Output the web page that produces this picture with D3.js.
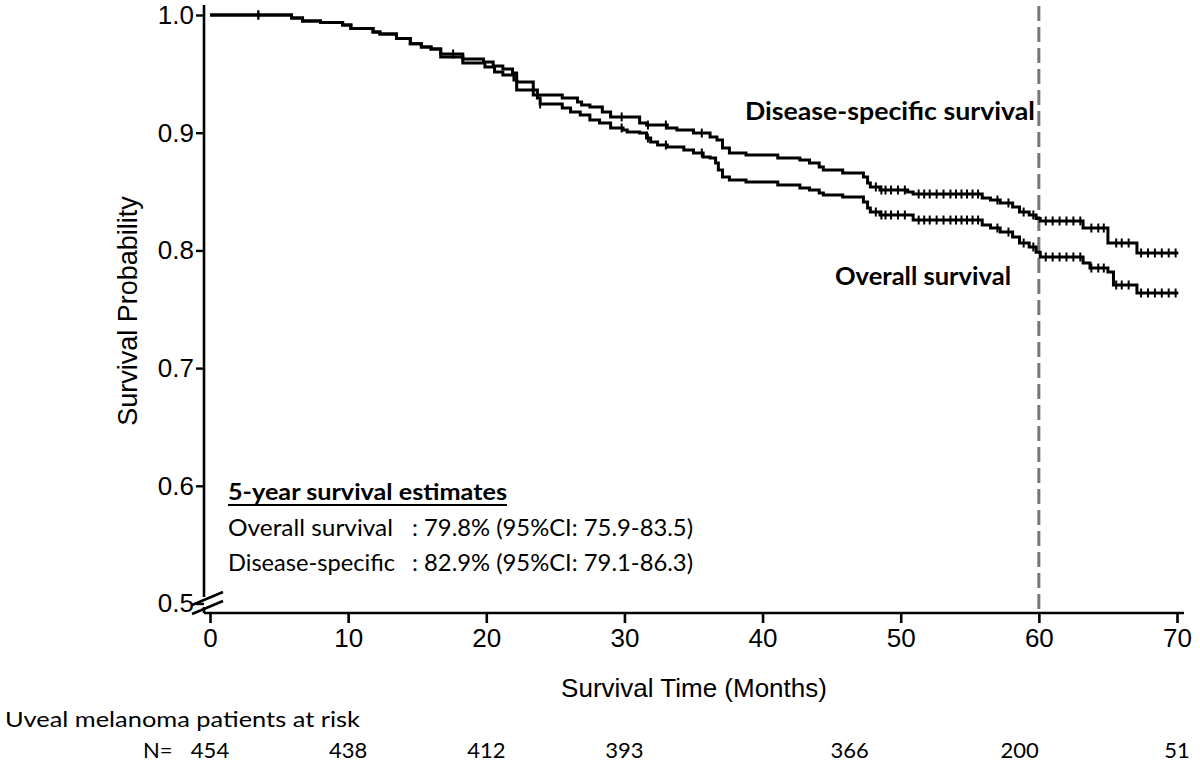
<!DOCTYPE html>
<html><head><meta charset="utf-8">
<script src="https://cdn.jsdelivr.net/npm/d3@7"></script>
<style>
html,body{margin:0;padding:0;background:#fff;}
svg{display:block;}
</style></head>
<body>
<svg id="c" width="1200" height="762"></svg>
<script>
// ---- data ----
const xTicks = [0,10,20,30,40,50,60,70];
const yTicks = [0.5,0.6,0.7,0.8,0.9,1.0];
const atRisk = [454,438,412,393,366,200,51];
const atRiskTimes = [0,10,20,30,46.3,58.6,70];

const dssTime = [0,5.9,6.7,8.0,9.6,10.2,11.8,12.3,13.5,14.5,15.3,16.0,16.7,18.3,19.8,20.5,21.2,21.9,22.2,23.4,25.5,26.6,26.9,27.5,28.4,29.0,31.1,31.6,33.1,33.8,35.0,36.2,36.7,37.1,37.6,38.8,41.1,42.7,43.4,44.1,44.4,45.8,47.3,47.6,47.8,48.5,50.5,50.9,55.9,56.5,57.2,58.1,58.6,59.3,59.8,60.1,63.2,65.0,67.1];
const dssSurv = [1.000,0.9974,0.9949,0.9936,0.9915,0.9885,0.9856,0.9839,0.9800,0.9755,0.9728,0.9711,0.9669,0.9626,0.9600,0.9566,0.9541,0.9507,0.9431,0.9320,0.9295,0.9261,0.9235,0.9218,0.9176,0.9134,0.9082,0.9065,0.9040,0.9023,0.8997,0.8963,0.8938,0.8870,0.8828,0.8811,0.8785,0.8768,0.8743,0.8709,0.8683,0.8658,0.8624,0.8573,0.8539,0.8513,0.8496,0.8479,0.8445,0.8428,0.8403,0.8369,0.8326,0.8301,0.8270,0.8250,0.8190,0.8063,0.7978];
const osTime = [0,5.9,6.7,8.0,9.6,10.2,11.8,12.3,13.5,14.5,15.3,16.0,16.7,18.3,19.9,20.6,21.2,22.0,22.2,23.7,23.9,25.5,26.1,26.8,27.5,28.2,29.0,29.9,30.2,31.1,31.6,31.9,32.4,33.1,34.3,35.0,35.7,36.2,36.6,36.8,37.1,37.6,38.8,41.1,42.7,43.4,44.1,44.4,45.8,47.3,47.6,47.8,48.5,50.9,55.9,56.5,57.2,58.1,58.6,59.3,59.8,60.1,63.2,63.7,65.0,65.4,67.1];
const osSurv = [1.000,0.9974,0.9949,0.9936,0.9915,0.9885,0.9856,0.9839,0.9800,0.9755,0.9728,0.9711,0.9643,0.9592,0.9558,0.9516,0.9490,0.9448,0.9363,0.9295,0.9244,0.9210,0.9176,0.9150,0.9108,0.9082,0.9040,0.9023,0.9006,0.8997,0.8955,0.8921,0.8895,0.8878,0.8853,0.8828,0.8794,0.8785,0.8743,0.8683,0.8624,0.8598,0.8581,0.8556,0.8530,0.8513,0.8488,0.8471,0.8454,0.8411,0.8360,0.8326,0.8301,0.8258,0.8216,0.8190,0.8156,0.8114,0.8063,0.8029,0.7985,0.7944,0.7893,0.7850,0.7816,0.7706,0.7638];
const endTime = 70.1;
const dssCensor = [3.5,17.6,29.8,31.7,33.0,35.6,48.2,48.6,48.9,49.3,49.8,50.3,51.3,51.7,52.1,52.6,53.1,53.6,54.0,54.4,54.8,55.2,55.6,57.0,57.8,58.9,59.6,60.5,61.0,61.5,62.0,62.5,63.0,63.8,64.3,64.7,65.6,66.0,66.5,67.4,67.9,68.4,68.9,69.4,69.9];
const osCensor = [3.5,23.9,29.8,31.7,33.0,35.6,48.2,48.6,48.9,49.3,49.8,50.3,51.3,51.7,52.1,52.6,53.1,53.6,54.0,54.4,54.8,55.2,55.6,57.0,57.8,58.9,59.6,60.5,61.0,61.5,62.0,62.5,63.0,63.8,64.3,64.7,65.6,66.0,66.5,67.4,67.9,68.4,68.9,69.4,69.9];

// ---- layout ----
const svg = d3.select("#c");
const x = d3.scaleLinear().domain([0,70]).range([210,1177]);
const y = d3.scaleLinear().domain([0.5,1.0]).range([603.5,15]);
const axisY = 613, axisX = 204;
const arial = "Liberation Sans, Arial, sans-serif";
const cal = "Lato, 'Open Sans', sans-serif";

svg.append("line").attr("x1",x(60)).attr("x2",x(60)).attr("y1",6).attr("y2",axisY)
  .attr("stroke","#777").attr("stroke-width",3).attr("stroke-dasharray","15,6");

const line = d3.line().x(d=>x(d[0])).y(d=>y(d[1])).curve(d3.curveStepAfter);
function series(t,s){ const pts = t.map((v,i)=>[v,s[i]]); pts.push([endTime,s[s.length-1]]); return pts; }
[series(osTime,osSurv),series(dssTime,dssSurv)].forEach(p=>{
  svg.append("path").attr("d",line(p)).attr("fill","none").attr("stroke","#000").attr("stroke-width",3);
});
function survAt(t,times,surv){ const i = d3.bisectRight(times,t)-1; return surv[Math.max(0,i)]; }
function censor(list,times,surv){
  svg.append("g").selectAll("line").data(list).join("line")
   .attr("x1",d=>x(d)).attr("x2",d=>x(d))
   .attr("y1",d=>y(survAt(d,times,surv))-4.5).attr("y2",d=>y(survAt(d,times,surv))+4.5)
   .attr("stroke","#000").attr("stroke-width",2);
}
censor(dssCensor,dssTime,dssSurv);
censor(osCensor,osTime,osSurv);

// axes
const gx = svg.append("g").attr("transform",`translate(0,${axisY})`)
  .call(d3.axisBottom(x).tickValues(xTicks).tickSize(10).tickSizeOuter(0).tickPadding(6));
gx.select(".domain").attr("d",`M${axisX},0H1184`).attr("stroke-width",2.6);
gx.selectAll("line").attr("stroke-width",2.6);
gx.selectAll("text").attr("font-size",26).attr("fill","#000").attr("font-family",arial);

const gy = svg.append("g").attr("transform",`translate(${axisX},0)`)
  .call(d3.axisLeft(y).tickValues(yTicks).tickFormat(d3.format(".1f")).tickSize(8).tickSizeOuter(0).tickPadding(2));
gy.select(".domain").attr("d",`M0,5V597M0,607V${axisY}`).attr("stroke-width",2.6);
gy.selectAll("line").attr("stroke-width",2.4);
gy.selectAll("text").attr("font-size",26).attr("fill","#000").attr("font-family",arial);

const brk = svg.append("g").attr("stroke","#000").attr("stroke-width",2.6);
brk.append("line").attr("x1",192).attr("y1",605).attr("x2",223).attr("y2",592);
brk.append("line").attr("x1",192).attr("y1",614).attr("x2",223).attr("y2",601);

svg.append("text").attr("x",694).attr("y",697).attr("text-anchor","middle")
  .attr("font-family",arial).attr("font-size",26).text("Survival Time (Months)");
svg.append("text").attr("transform","translate(137,311) rotate(-90)").attr("text-anchor","middle")
  .attr("font-family",arial).attr("font-size",27).text("Survival Probability");

svg.append("text").attr("x",745).attr("y",120).attr("font-family",cal).attr("font-weight","bold").attr("font-size",24)
  .attr("textLength",290).attr("lengthAdjust","spacingAndGlyphs").text("Disease-specific survival");
svg.append("text").attr("x",835).attr("y",285).attr("font-family",cal).attr("font-weight","bold").attr("font-size",24)
  .attr("textLength",176).attr("lengthAdjust","spacingAndGlyphs").text("Overall survival");

svg.append("text").attr("x",228).attr("y",500).attr("font-family",cal).attr("font-weight","bold").attr("font-size",23)
  .attr("textLength",279).attr("lengthAdjust","spacingAndGlyphs").text("5-year survival estimates");
svg.append("line").attr("x1",228).attr("x2",507).attr("y1",505).attr("y2",505).attr("stroke","#000").attr("stroke-width",1.8);
const estLabels = ["Overall survival","Disease-specific"];
const estValues = [": 79.8% (95%CI: 75.9-83.5)", ": 82.9% (95%CI: 79.1-86.3)"];
const estLabelW = [165,167];
estLabels.forEach((l,i)=>{
  const yy = 536 + i*35;
  svg.append("text").attr("x",228).attr("y",yy).attr("font-family",cal).attr("font-size",23)
    .attr("textLength",estLabelW[i]).attr("lengthAdjust","spacingAndGlyphs").text(l);
  svg.append("text").attr("x",412).attr("y",yy).attr("font-family",cal).attr("font-size",23)
    .attr("textLength",281).attr("lengthAdjust","spacingAndGlyphs").text(estValues[i]);
});

svg.append("text").attr("x",5).attr("y",727).attr("font-family",cal).attr("font-size",22)
  .attr("textLength",355).attr("lengthAdjust","spacingAndGlyphs").text("Uveal melanoma patients at risk");
svg.append("text").attr("x",143).attr("y",758).attr("font-family",cal).attr("font-size",22).text("N=");
svg.append("g").selectAll("text").data(atRisk).join("text")
  .attr("x",(d,i)=>x(atRiskTimes[i])).attr("y",758).attr("text-anchor","middle")
  .attr("font-family",cal).attr("font-size",22).text(d=>d);
</script>
</body></html>
